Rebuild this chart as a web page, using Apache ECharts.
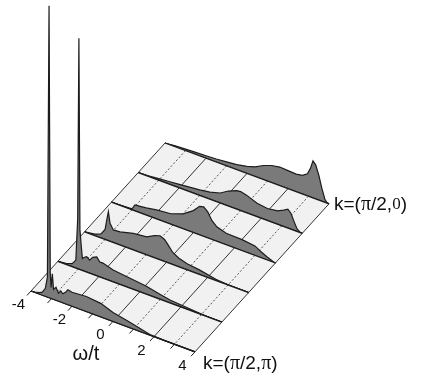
<!DOCTYPE html>
<html><head><meta charset="utf-8">
<script src="https://cdn.jsdelivr.net/npm/echarts@6/dist/echarts.min.js"></script>
<style>html,body{margin:0;padding:0;background:#fff}#c{width:423px;height:381px}</style>
</head><body><div id="c"></div>
<script>
// ---- data ----
const kLabels = ['k=(π/2,0)', 'k=(π/2,π)'];
const omegaTicks = [-4, -2, 0, 2, 4];
const omegaGrid = [-4, -3, -2, -1, 0, 1, 2, 3, 4];
const axisTitle = 'ω/t';
// spectra A(ω) for each k, back (k=(π/2,0)) to front (k=(π/2,π)); pairs [ω, A]
const row0 = [[-4,0],[-3.5,0.1],[-3,0.15],[-2.5,0.2],[-2,0.25],[-1.5,0.3],[-1,0.4],[-0.5,0.5],[0,0.7],[0.4,0.95],[0.8,1.4],[1.2,1.7],[1.6,1.85],[2.0,1.8],[2.4,1.75],[2.7,1.85],[2.95,2.2],[3.1,2.9],[3.22,3.7],[3.35,3.4],[3.5,2.5],[3.65,1.3],[3.8,0.3],[3.9,0.05],[4,0]];
const row1 = [[-4,0],[-3.5,0.05],[-3,0.15],[-2.5,0.25],[-2,0.35],[-1.5,0.45],[-1,0.55],[-0.5,0.7],[0,1.0],[0.4,1.5],[0.8,1.85],[1.0,1.9],[1.3,1.75],[1.8,1.35],[2.3,1.2],[2.8,1.35],[3.1,1.65],[3.3,1.9],[3.45,1.6],[3.6,0.9],[3.75,0.25],[3.9,0.05],[4,0]];
const row2 = [[-4,0],[-3.5,0.05],[-3.0,0.1],[-2.92,0.35],[-2.85,0.6],[-2.6,0.65],[-2.3,0.72],[-1.8,0.9],[-1.1,1.05],[-0.5,1.5],[0,2.2],[0.3,2.85],[0.5,2.95],[0.7,2.6],[0.9,1.9],[1.14,1.45],[1.6,1.15],[2.4,1.1],[3.0,0.95],[3.3,0.6],[3.6,0.3],[3.9,0.05],[4,0]];
const row3 = [[-4,0],[-3.5,0.15],[-3.2,0.4],[-3.0,1.0],[-2.92,2.0],[-2.84,2.9],[-2.76,1.8],[-2.6,1.25],[-2.27,1.3],[-1.62,1.65],[-0.97,1.8],[-0.6,2.2],[-0.32,2.4],[-0.1,2.2],[0.05,1.85],[0.3,1.2],[0.6,0.85],[1.0,0.6],[1.6,0.45],[2.4,0.12],[3,0.03],[4,0]];
const row4 = [[-4,0],[-3.6,0.1],[-3.3,0.3],[-3.12,0.8],[-3.03,5],[-2.97,23.1],[-2.92,4],[-2.86,2.5],[-2.8,1.2],[-2.7,1.4],[-2.59,1.55],[-2.45,1.3],[-2.3,1.7],[-2.1,1.9],[-1.95,1.5],[-1.8,1.5],[-1.3,1.2],[-0.5,1.0],[0.3,0.8],[1.0,0.5],[1.5,0.3],[2.1,0.2],[2.7,0.1],[3.2,0.02],[4,0]];
const row5 = [[-4,0],[-3.8,0.05],[-3.6,0.15],[-3.45,0.3],[-3.3,0.8],[-3.2,2.0],[-3.12,29.2],[-3.06,2.5],[-3.02,1.1],[-2.96,2.5],[-2.9,1.0],[-2.78,1.3],[-2.66,0.8],[-2.55,1.1],[-2.45,0.9],[-2.3,1.2],[-2.2,1.5],[-2.0,1.4],[-1.3,1.5],[-0.6,1.35],[0,0.9],[0.7,0.6],[1.3,0.3],[1.8,0.05],[2.5,0],[4,0]];
const rows = [row0, row1, row2, row3, row4, row5];

// ---- projection (layout) ----
const O = [31, 291], U = [20.5, 7.6], V = [26.8, -29.6], HS = 10;
const NR = rows.length - 1;
function P(w, j, a) {
  a = a || 0;
  return [O[0] + U[0] * (w + 4) + V[0] * (NR - j), O[1] + U[1] * (w + 4) + V[1] * (NR - j) - a * HS];
}

const layers = [];
for (let j = 0; j <= NR; j++) {
  layers.push({ t: 'curve', j: j });
  if (j < NR) layers.push({ t: 'strip', j: j });
}
layers.push({ t: 'axis' });

// split a k label into sans / serif (π and digit inside the bracket) pieces
function kRich(s) {
  return s.replace(/π/g, '{s|π}').replace(/,0\)/, ',{z|0})');
}
const SANS = '"Liberation Sans", Arial, sans-serif';
const SERIF = '"Liberation Serif", "Times New Roman", serif';

const chart = echarts.init(document.getElementById('c'), null, { renderer: 'canvas' });
const LINE = '#1c1c1c';
function renderItem(params, api) {
  const L = layers[params.dataIndex];
  const c = p => api.coord(p);
  const kids = [];
  if (L.t === 'strip') {
    const j = L.j;
    kids.push({ type: 'polygon', shape: { points: [P(-4, j), P(4, j), P(4, j + 1), P(-4, j + 1)].map(c) },
      style: { fill: '#f1f1f1', stroke: null } });
    omegaGrid.forEach(w => {
      const a = c(P(w, j)), b = c(P(w, j + 1));
      const odd = Math.abs(w) % 2 === 1;
      kids.push({ type: 'line', shape: { x1: a[0], y1: a[1], x2: b[0], y2: b[1] },
        style: { stroke: odd ? '#444' : '#333', lineWidth: odd ? 0.9 : 1, lineDash: odd ? [2, 2] : null } });
    });
    [j, j + 1].forEach(jj => {
      const a = c(P(-4, jj)), b = c(P(4, jj));
      kids.push({ type: 'line', shape: { x1: a[0], y1: a[1], x2: b[0], y2: b[1] }, style: { stroke: LINE, lineWidth: 1.3 } });
    });
  } else if (L.t === 'curve') {
    const j = L.j, r = rows[j];
    const pts = r.map(d => c(P(d[0], j, d[1])));
    kids.push({ type: 'polygon', shape: { points: pts.concat([c(P(4, j)), c(P(-4, j))]) },
      style: { fill: '#7a7a7a', stroke: null } });
    kids.push({ type: 'polyline', shape: { points: pts }, style: { stroke: LINE, lineWidth: 1.2, fill: null } });
    const a = c(P(-4, j)), b = c(P(4, j));
    kids.push({ type: 'line', shape: { x1: a[0], y1: a[1], x2: b[0], y2: b[1] }, style: { stroke: LINE, lineWidth: 1.3 } });
  } else {
    omegaGrid.forEach(w => {
      const a = c(P(w, NR)), b = c(P(w, NR + 0.15));
      kids.push({ type: 'line', shape: { x1: a[0], y1: a[1], x2: b[0], y2: b[1] }, style: { stroke: LINE, lineWidth: 1 } });
    });
    omegaTicks.forEach(w => {
      const p = c(P(w, NR + 0.47));
      kids.push({ type: 'text', x: p[0], y: p[1], style: { text: String(w), fill: '#111', font: '15px ' + SANS, align: 'center', verticalAlign: 'middle' } });
    });
    const t = c(P(0.12, NR + 1.1));
    kids.push({ type: 'text', x: t[0], y: t[1], style: { text: axisTitle, fill: '#111', font: '20px ' + SANS, align: 'center', verticalAlign: 'middle' } });
    const k0 = c(P(4, 0)), k1 = c(P(4, NR));
    const rich = { s: { font: '20px ' + SERIF, fill: '#111' }, z: { font: '17px ' + SERIF, fill: '#111' } };
    kids.push({ type: 'text', x: k0[0] + 5, y: k0[1] + 1, style: { text: kRich(kLabels[0]), rich: rich, fill: '#111', font: '19px ' + SANS, align: 'left', verticalAlign: 'middle' } });
    kids.push({ type: 'text', x: k1[0] + 8, y: k1[1] + 12, style: { text: kRich(kLabels[1]), rich: rich, fill: '#111', font: '19px ' + SANS, align: 'left', verticalAlign: 'middle' } });
  }
  return { type: 'group', children: kids };
}

chart.setOption({
  animation: false,
  grid: { left: 0, right: 0, top: 0, bottom: 0 },
  xAxis: { type: 'value', min: 0, max: 423, show: false },
  yAxis: { type: 'value', min: 0, max: 381, inverse: true, show: false },
  series: [{ type: 'custom', renderItem: renderItem, data: layers.map((l, i) => [i]), clip: false, silent: true }]
});
</script>
</body></html>
